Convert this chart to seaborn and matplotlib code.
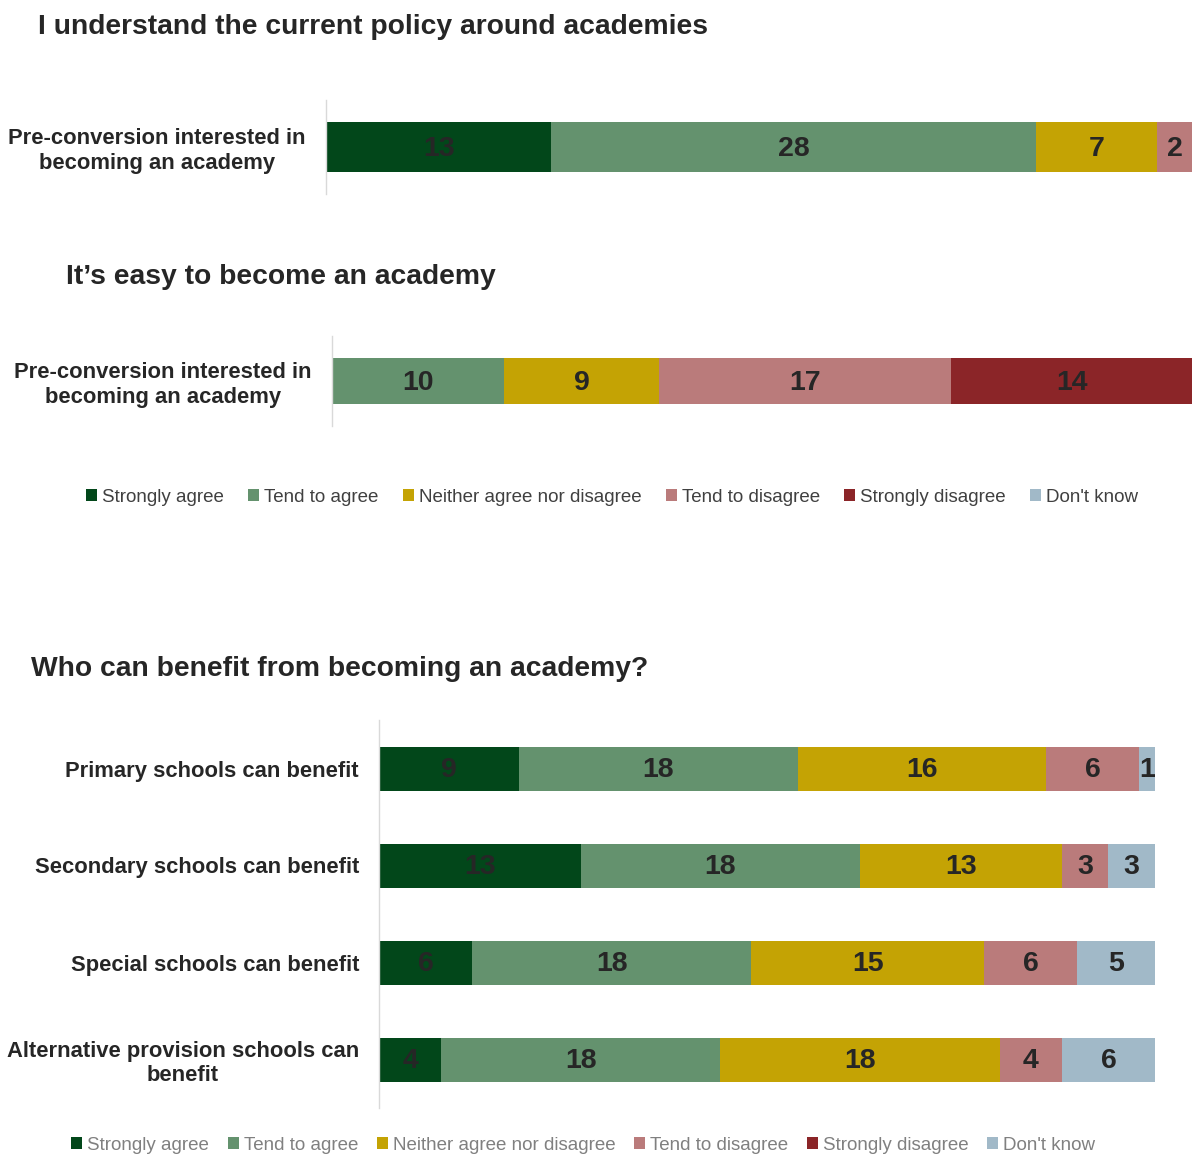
import matplotlib
matplotlib.use("Agg")
import matplotlib.pyplot as plt
from matplotlib.patches import Patch
import numpy as np
import seaborn as sns

sns.set_style("white")
plt.rcParams["font.family"] = ["Liberation Sans", "DejaVu Sans"]

# Response scale and colours
responses = ["Strongly agree", "Tend to agree", "Neither agree nor disagree",
             "Tend to disagree", "Strongly disagree", "Don't know"]
colors = ["#02471A", "#64926E", "#C4A304", "#BA7B7B", "#8B2528", "#A1B9C8"]

# "I understand the current policy around academies"
policy_groups = ["Pre-conversion interested in\nbecoming an academy"]
policy_sa = [13]
policy_ta = [28]
policy_neither = [7]
policy_td = [2]
policy_sd = [0]
policy_dk = [0]

# "It's easy to become an academy"
easy_groups = ["Pre-conversion interested in\nbecoming an academy"]
easy_sa = [0]
easy_ta = [10]
easy_neither = [9]
easy_td = [17]
easy_sd = [14]
easy_dk = [0]

# "Who can benefit from becoming an academy?"
benefit_groups = ["Primary schools can benefit", "Secondary schools can benefit",
                  "Special schools can benefit",
                  "Alternative provision schools can\nbenefit"]
benefit_sa = [9, 13, 6, 4]
benefit_ta = [18, 18, 18, 18]
benefit_neither = [16, 13, 15, 18]
benefit_td = [6, 3, 6, 4]
benefit_sd = [0, 0, 0, 0]
benefit_dk = [1, 3, 5, 6]

W, H = 1192, 1155
fig = plt.figure(figsize=(W / 100, H / 100), dpi=100)


def px_axes(x0, y0, x1, y1):
    return fig.add_axes([x0 / W, 1 - y1 / H, (x1 - x0) / W, (y1 - y0) / H])


def stacked(ax, groups, series, bar_frac, value_size):
    data = np.array(series, dtype=float)
    lefts = np.zeros(len(groups))
    for i, vals in enumerate(data):
        sns.barplot(x=vals, y=groups, left=lefts, color=colors[i], width=bar_frac,
                    saturation=1, errorbar=None, linewidth=0, orient="y", ax=ax)
        for j, v in enumerate(vals):
            if v > 0:
                ax.text(lefts[j] + v / 2, j + 0.02, f"{int(v)}", ha="center", va="center",
                        fontsize=value_size, fontweight="bold", color="#262626")
        lefts = lefts + vals
    ax.set_xlim(0, lefts.max())
    ax.set_ylim(len(groups) - 0.5, -0.5)
    ax.set_xlabel("")
    ax.set_ylabel("")
    ax.set_xticks([])
    for s in ["top", "right", "bottom"]:
        ax.spines[s].set_visible(False)
    ax.spines["left"].set_color("#D9D9D9")
    ax.spines["left"].set_linewidth(1)
    ax.tick_params(axis="y", length=0, pad=14.4)
    for lab in ax.get_yticklabels():
        lab.set_fontsize(15.8)
        lab.set_fontweight("bold")
        lab.set_color("#262626")
        lab.set_multialignment("center")


title_kw = dict(fontsize=20.3, fontweight="bold", color="#262626", va="center", ha="left")

# Panel 1
fig.text(38 / W, 1 - 27 / H, "I understand the current policy around academies", **title_kw)
ax1 = px_axes(326, 100, 1192, 194)
stacked(ax1, policy_groups,
        [policy_sa, policy_ta, policy_neither, policy_td, policy_sd, policy_dk],
        50 / 94, 20.5)

# Panel 2
fig.text(66 / W, 1 - 277 / H, "It\u2019s easy to become an academy", **title_kw)
ax2 = px_axes(332, 336, 1192, 426)
stacked(ax2, easy_groups,
        [easy_sa, easy_ta, easy_neither, easy_td, easy_sd, easy_dk],
        46 / 90, 20.5)

handles = [Patch(facecolor=c, edgecolor="none") for c in colors]
leg_kw = dict(ncol=6, loc="center", frameon=False, handlelength=0.6,
              handleheight=0.6, handletextpad=0.25, fontsize=13.5)
fig.legend(handles, responses, bbox_to_anchor=(612 / W, 1 - 497 / H),
           labelcolor="#404040", columnspacing=1.3, **leg_kw)

# Panel 3
fig.text(31 / W, 1 - 669 / H, "Who can benefit from becoming an academy?", **title_kw)
ax3 = px_axes(379, 720, 1155, 1108)
stacked(ax3, benefit_groups,
        [benefit_sa, benefit_ta, benefit_neither, benefit_td, benefit_sd, benefit_dk],
        44 / 97, 20.5)

fig.legend(handles, responses, bbox_to_anchor=(583 / W, 1 - 1145 / H),
           labelcolor="#808080", columnspacing=1.0, **leg_kw)

fig.savefig("out.png", dpi=100)
